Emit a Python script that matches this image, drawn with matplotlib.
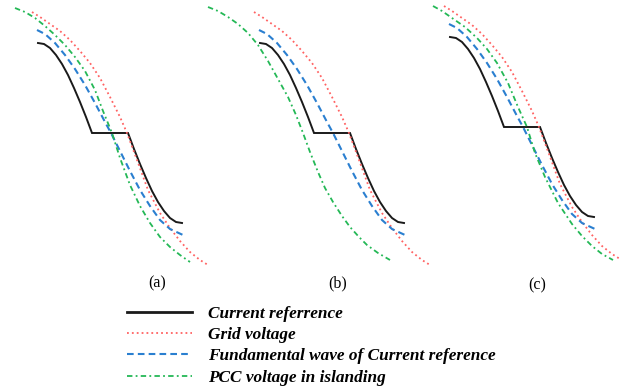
import matplotlib
matplotlib.use('Agg')
import matplotlib.pyplot as plt

# waveforms, x = phase offset from the current reference
# centre, y = level above the zero (dead band) line; same units in all panels

# current reference with dead band at zero crossing (same in every panel)
current_x = [-72, -66, -60, -54, -48, -42, -36, -30, -24, -18,
             18, 24, 30, 36, 42, 48, 54, 60, 66, 72]
current_y = [90, 89, 85, 78, 69, 58, 45, 31, 16, 0,
             0, -16, -31, -45, -58, -69, -78, -85, -89, -90]

# grid voltage
grid_x = [-78, -70, -60, -50, -40, -30, -20, -10, 0, 10, 17, 27, 38, 50, 60, 70, 80, 90, 98]
grid_y = [121, 116, 109, 102, 93, 82, 70, 55, 36, 16, 0, -27, -57, -80, -95, -108, -119, -127, -132]

# fundamental wave of current reference
fund_x = [-73, -65, -55, -45, -35, -25, -15, -5, 1, 10, 20, 30, 40, 50, 60, 73]
fund_y = [103, 99, 90, 78, 64, 48, 30, 11, 0, -18, -38, -57, -73, -87, -96, -102]

# PCC voltage in islanding, one per case
pcc_a_x = [-95, -85, -75, -65, -55, -45, -35, -25, -15, -7, 2, 10, 20, 30, 40, 50, 60, 70, 80]
pcc_a_y = [125, 121, 115, 107, 98, 88, 76, 62, 43, 22, 0, -25, -52, -73, -90, -104, -114, -122, -129]

pcc_b_x = [-124, -114, -104, -94, -84, -74, -64, -54, -44, -36, -29, -22, -14, -7, 1, 10, 18, 27, 35, 46, 58]
pcc_b_y = [126, 122, 116, 109, 100, 88, 72, 54, 36, 18, 0, -19, -39, -55, -69, -83, -94, -104, -112, -120, -127]

pcc_c_x = [-89, -80, -70, -57, -45, -35, -25, -14, -4, 5, 13, 23, 36, 50, 60, 70, 80, 91]
pcc_c_y = [121, 116, 109, 100, 89, 78, 64, 44, 20, 0, -26, -50, -76, -97, -109, -119, -127, -133]

panel_labels = ['(a)', '(b)', '(c)']
legend_labels = ['Current referrence', 'Grid voltage',
                 'Fundamental wave of Current reference', 'PCC voltage in islanding']

# layout (pixels)
W, H = 627, 391
panel_cx = [110, 332, 522]
panel_zero = [133, 133, 127]
label_pos = [(157, 283), (338, 283), (537, 285)]

c_black = '#1a1a1a'
c_red = '#ff6262'
c_blue = '#2a7fd0'
c_green = '#24b856'

fig = plt.figure(figsize=(W / 100, H / 100), dpi=100)

pcc = [(pcc_a_x, pcc_a_y), (pcc_b_x, pcc_b_y), (pcc_c_x, pcc_c_y)]
handles = None
for i in range(3):
    cx, zy = panel_cx[i], panel_zero[i]
    ax = fig.add_axes([(cx - 130) / W, (H - zy - 147) / H, 260 / W, 280 / H])
    ax.set_xlim(-130, 130)
    ax.set_ylim(-147, 133)
    ax.set_axis_off()
    ax.patch.set_alpha(0)
    l1, = ax.plot(current_x, current_y, color=c_black, lw=1.4, solid_joinstyle='miter')
    l2, = ax.plot(grid_x, grid_y, color=c_red, lw=1.3, linestyle=(0, (1, 1.7)))
    l3, = ax.plot(fund_x, fund_y, color=c_blue, lw=1.5, linestyle=(0, (3.2, 2)))
    l4, = ax.plot(pcc[i][0], pcc[i][1], color=c_green, lw=1.3, linestyle=(0, (3, 1.8, 1, 1.8)))
    if handles is None:
        handles = [l1, l2, l3, l4]
    lx, ly = label_pos[i]
    fig.text(lx / W, 1 - ly / H, panel_labels[i], ha='center', va='center',
             fontsize=11.5, family='Liberation Serif')

leg = fig.legend(handles, legend_labels, loc='upper left',
                 bbox_to_anchor=(127 / W, 1 - 306 / H), frameon=False,
                 borderpad=0, borderaxespad=0, handlelength=3.75, handletextpad=0.95,
                 labelspacing=0.3,
                 prop={'family': 'Liberation Serif', 'weight': 'bold', 'style': 'italic', 'size': 12.4})
leg.get_lines()[0].set_linewidth(2.0)

fig.savefig('out.png', dpi=100)
